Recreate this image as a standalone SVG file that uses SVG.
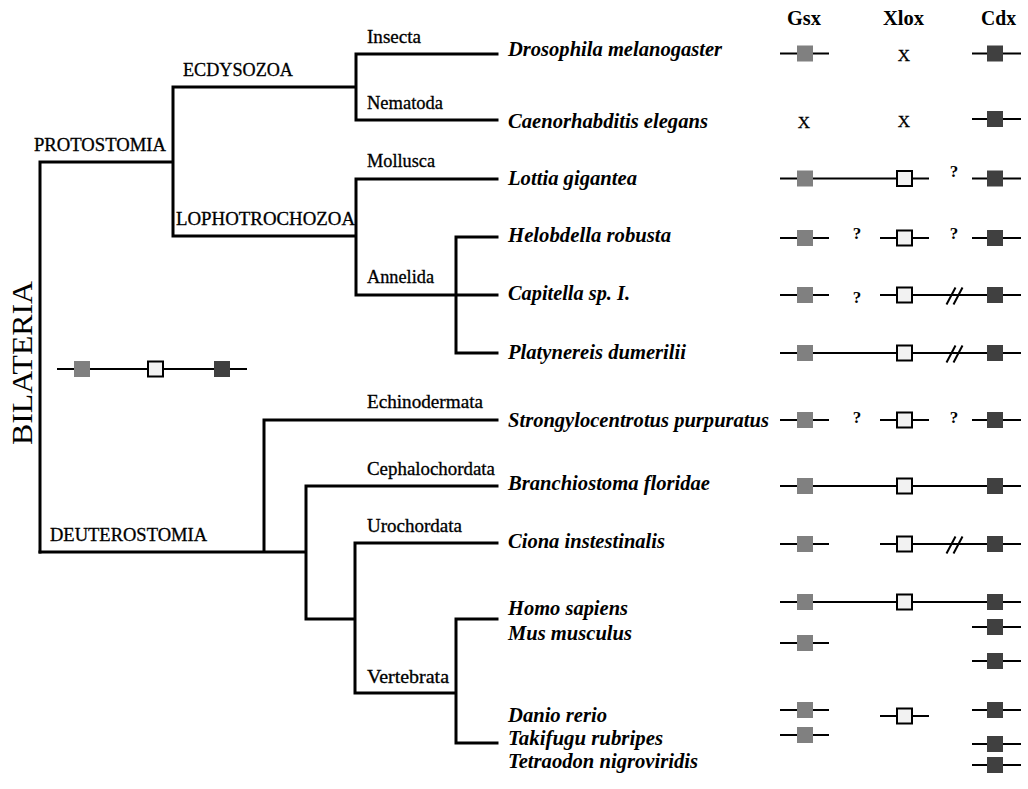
<svg xmlns="http://www.w3.org/2000/svg" xmlns:xlink="http://www.w3.org/1999/xlink" width="1028" height="789" viewBox="0 0 1028 789">
<style>
.tree{stroke:#000;stroke-width:3;fill:none;stroke-linecap:square}
.gl{stroke:#000;stroke-width:2;fill:none}
.gsx{fill:#808080}
.cdx{fill:#404040}
.xlox{fill:#f2f2f2;stroke:#000;stroke-width:2}
.clade{font-family:"Liberation Serif",serif;font-size:18px;fill:#000;stroke:#000;stroke-width:0.3}
.sp{font-family:"Liberation Serif",serif;font-size:20px;font-weight:bold;font-style:italic;fill:#000}
.hdr{font-family:"Liberation Serif",serif;font-size:20px;font-weight:bold;fill:#000;text-anchor:middle}
.xm{font-family:"Liberation Serif",serif;font-size:17px;fill:#000;text-anchor:middle;stroke:#000;stroke-width:0.3}
.q{font-family:"Liberation Serif",serif;font-size:17px;font-weight:bold;fill:#000;text-anchor:middle}
.big{font-family:"Liberation Serif",serif;font-size:30px;fill:#000}
</style>
<defs>
<rect id="g" x="-8" y="-8" width="16" height="16" class="gsx"/>
<rect id="c" x="-8" y="-8" width="16" height="16" class="cdx"/>
<rect id="x" x="-7.5" y="-7.5" width="15" height="15" class="xlox"/>
<g id="sl" class="gl"><line x1="-8" y1="9" x2="1" y2="-8"/><line x1="-1" y1="9" x2="8" y2="-8"/></g>
</defs>
<rect width="1028" height="789" fill="#fff"/>

<g id="connectors">
<path class="tree" d="M40,162 V552 M40,162 H173 M173,87 V236 M173,87 H356 M356,54 V120 M356,54 H497 M356,120 H497 M173,236 H356 M356,179 V295 M356,179 H497 M356,295 H497 M456,237 V353 M456,237 H497 M456,353 H497"/>
<path class="tree" d="M40,552 H306 M264,420 V552 M264,420 H497 M306,486 V619 M306,486 H497 M306,619 H355 M355,543 V693 M355,543 H497 M355,693 H456 M456,619 V743 M456,619 H497 M456,743 H497"/>
</g>

<g id="clade-labels">
<text class="big" transform="translate(32,445) rotate(-90)" textLength="164" lengthAdjust="spacingAndGlyphs">BILATERIA</text>
<text class="clade" x="34" y="151" textLength="132" lengthAdjust="spacingAndGlyphs">PROTOSTOMIA</text>
<text class="clade" x="183" y="76" textLength="110" lengthAdjust="spacingAndGlyphs">ECDYSOZOA</text>
<text class="clade" x="176" y="225" textLength="179" lengthAdjust="spacingAndGlyphs">LOPHOTROCHOZOA</text>
<text class="clade" x="367" y="43" textLength="54" lengthAdjust="spacingAndGlyphs">Insecta</text>
<text class="clade" x="367" y="109" textLength="76" lengthAdjust="spacingAndGlyphs">Nematoda</text>
<text class="clade" x="367" y="167" textLength="68" lengthAdjust="spacingAndGlyphs">Mollusca</text>
<text class="clade" x="367" y="283" textLength="67" lengthAdjust="spacingAndGlyphs">Annelida</text>
<text class="clade" x="367" y="408" textLength="116" lengthAdjust="spacingAndGlyphs">Echinodermata</text>
<text class="clade" x="367" y="475" textLength="128" lengthAdjust="spacingAndGlyphs">Cephalochordata</text>
<text class="clade" x="367" y="532" textLength="95" lengthAdjust="spacingAndGlyphs">Urochordata</text>
<text class="clade" x="50" y="541" textLength="157" lengthAdjust="spacingAndGlyphs">DEUTEROSTOMIA</text>
<text class="clade" x="367" y="683" textLength="82" lengthAdjust="spacingAndGlyphs">Vertebrata</text>
</g>

<g id="species">
<text class="sp" x="508" y="56" textLength="214" lengthAdjust="spacingAndGlyphs">Drosophila melanogaster</text>
<text class="sp" x="508" y="128" textLength="200" lengthAdjust="spacingAndGlyphs">Caenorhabditis elegans</text>
<text class="sp" x="508" y="185" textLength="129" lengthAdjust="spacingAndGlyphs">Lottia gigantea</text>
<text class="sp" x="508" y="242" textLength="163" lengthAdjust="spacingAndGlyphs">Helobdella robusta</text>
<text class="sp" x="508" y="300" textLength="122" lengthAdjust="spacingAndGlyphs">Capitella sp. I.</text>
<text class="sp" x="508" y="359" textLength="178" lengthAdjust="spacingAndGlyphs">Platynereis dumerilii</text>
<text class="sp" x="508" y="427" textLength="261" lengthAdjust="spacingAndGlyphs">Strongylocentrotus purpuratus</text>
<text class="sp" x="508" y="490" textLength="202" lengthAdjust="spacingAndGlyphs">Branchiostoma floridae</text>
<text class="sp" x="508" y="548" textLength="157" lengthAdjust="spacingAndGlyphs">Ciona instestinalis</text>
<text class="sp" x="508" y="615" textLength="120" lengthAdjust="spacingAndGlyphs">Homo sapiens</text>
<text class="sp" x="508" y="640" textLength="124" lengthAdjust="spacingAndGlyphs">Mus musculus</text>
<text class="sp" x="508" y="722" textLength="99" lengthAdjust="spacingAndGlyphs">Danio rerio</text>
<text class="sp" x="508" y="745" textLength="155" lengthAdjust="spacingAndGlyphs">Takifugu rubripes</text>
<text class="sp" x="508" y="768" textLength="190" lengthAdjust="spacingAndGlyphs">Tetraodon nigroviridis</text>
</g>

<g id="headers">
<text class="hdr" x="804" y="25" textLength="34" lengthAdjust="spacingAndGlyphs">Gsx</text>
<text class="hdr" x="903.5" y="25" textLength="41" lengthAdjust="spacingAndGlyphs">Xlox</text>
<text class="hdr" x="998.5" y="25" textLength="35" lengthAdjust="spacingAndGlyphs">Cdx</text>
</g>

<g id="legend">
<line class="gl" x1="57" y1="369" x2="247" y2="369"/>
<use xlink:href="#g" x="82" y="369"/>
<use xlink:href="#x" x="155.5" y="369"/>
<use xlink:href="#c" x="222" y="369"/>
</g>

<g id="row-drosophila">
<line class="gl" x1="780" y1="53.5" x2="829" y2="53.5"/><use xlink:href="#g" x="805" y="53.5"/>
<text class="xm" x="904" y="61">X</text>
<line class="gl" x1="972" y1="53.5" x2="1021" y2="53.5"/><use xlink:href="#c" x="995" y="53.5"/>
</g>
<g id="row-caenorhabditis">
<text class="xm" x="804" y="128">X</text>
<text class="xm" x="904" y="127">X</text>
<line class="gl" x1="972" y1="119" x2="1021" y2="119"/><use xlink:href="#c" x="995" y="119"/>
</g>
<g id="row-lottia">
<line class="gl" x1="780" y1="178.5" x2="929" y2="178.5"/><use xlink:href="#g" x="805" y="178.5"/><use xlink:href="#x" x="904.5" y="178.5"/>
<text class="q" x="954" y="177">?</text>
<line class="gl" x1="972" y1="178.5" x2="1021" y2="178.5"/><use xlink:href="#c" x="995" y="178.5"/>
</g>
<g id="row-helobdella">
<line class="gl" x1="780" y1="238" x2="829" y2="238"/><use xlink:href="#g" x="805" y="238"/>
<text class="q" x="857" y="239">?</text>
<line class="gl" x1="880" y1="238" x2="929" y2="238"/><use xlink:href="#x" x="904.5" y="238"/>
<text class="q" x="954" y="239">?</text>
<line class="gl" x1="972" y1="238" x2="1021" y2="238"/><use xlink:href="#c" x="995" y="238"/>
</g>
<g id="row-capitella">
<line class="gl" x1="780" y1="295" x2="829" y2="295"/><use xlink:href="#g" x="805" y="295"/>
<text class="q" x="857" y="303">?</text>
<line class="gl" x1="880" y1="295" x2="1021" y2="295"/><use xlink:href="#x" x="904.5" y="295"/>
<use xlink:href="#sl" x="954.5" y="295.5"/>
<use xlink:href="#c" x="995" y="295"/>
</g>
<g id="row-platynereis">
<line class="gl" x1="780" y1="353" x2="1021" y2="353"/><use xlink:href="#g" x="805" y="353"/><use xlink:href="#x" x="904.5" y="353"/>
<use xlink:href="#sl" x="954.5" y="353.5"/>
<use xlink:href="#c" x="995" y="353"/>
</g>
<g id="row-strongylocentrotus">
<line class="gl" x1="780" y1="420" x2="829" y2="420"/><use xlink:href="#g" x="805" y="420"/>
<text class="q" x="857" y="423">?</text>
<line class="gl" x1="880" y1="420" x2="929" y2="420"/><use xlink:href="#x" x="904.5" y="420"/>
<text class="q" x="954" y="423">?</text>
<line class="gl" x1="972" y1="420" x2="1021" y2="420"/><use xlink:href="#c" x="995" y="420"/>
</g>
<g id="row-branchiostoma">
<line class="gl" x1="780" y1="486" x2="1021" y2="486"/><use xlink:href="#g" x="805" y="486"/><use xlink:href="#x" x="904.5" y="486"/><use xlink:href="#c" x="995" y="486"/>
</g>
<g id="row-ciona">
<line class="gl" x1="780" y1="544" x2="829" y2="544"/><use xlink:href="#g" x="805" y="544"/>
<line class="gl" x1="880" y1="544" x2="1021" y2="544"/><use xlink:href="#x" x="904.5" y="544"/>
<use xlink:href="#sl" x="954.5" y="544.5"/>
<use xlink:href="#c" x="995" y="544"/>
</g>
<g id="row-homo">
<line class="gl" x1="780" y1="602" x2="1021" y2="602"/><use xlink:href="#g" x="805" y="602"/><use xlink:href="#x" x="904.5" y="602"/><use xlink:href="#c" x="995" y="602"/>
</g>
<g id="row-mus">
<line class="gl" x1="972" y1="627" x2="1021" y2="627"/><use xlink:href="#c" x="995" y="627"/>
<line class="gl" x1="780" y1="643" x2="829" y2="643"/><use xlink:href="#g" x="805" y="643"/>
<line class="gl" x1="972" y1="661" x2="1021" y2="661"/><use xlink:href="#c" x="995" y="661"/>
</g>
<g id="row-fish">
<line class="gl" x1="780" y1="710" x2="829" y2="710"/><use xlink:href="#g" x="805" y="710"/>
<line class="gl" x1="880" y1="716" x2="929" y2="716"/><use xlink:href="#x" x="904.5" y="716"/>
<line class="gl" x1="972" y1="710" x2="1021" y2="710"/><use xlink:href="#c" x="995" y="710"/>
<line class="gl" x1="780" y1="735" x2="829" y2="735"/><use xlink:href="#g" x="805" y="735"/>
<line class="gl" x1="972" y1="744" x2="1021" y2="744"/><use xlink:href="#c" x="995" y="744"/>
<line class="gl" x1="972" y1="765" x2="1021" y2="765"/><use xlink:href="#c" x="995" y="765"/>
</g>
</svg>
